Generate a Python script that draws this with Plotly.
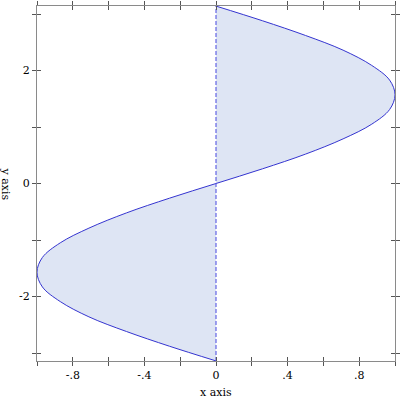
import plotly.graph_objects as go

# curve x = f(y)
y_vals = [-3.14, -2.88, -2.62, -2.36, -2.09, -1.83, -1.57, -1.31, -1.05, -0.79, -0.52, -0.26, 0.0,
          0.26, 0.52, 0.79, 1.05, 1.31, 1.57, 1.83, 2.09, 2.36, 2.62, 2.88, 3.14]
x_vals = [0.0, -0.26, -0.5, -0.71, -0.87, -0.97, -1.0, -0.97, -0.87, -0.71, -0.5, -0.26, 0.0,
          0.26, 0.5, 0.71, 0.87, 0.97, 1.0, 0.97, 0.87, 0.71, 0.5, 0.26, 0.0]
zero_x = [0.0, 0.0]
zero_y = [-3.1416, 3.1416]

x_ticks = [-0.8, -0.4, 0.0, 0.4, 0.8]
x_labels = ["-.8", "-.4", "0", ".4", ".8"]
x_minor = [-1.0, -0.6, -0.2, 0.2, 0.6, 1.0]
y_ticks = [-2, 0, 2]
y_labels = ["-2", "0", "2"]
y_minor = [-3, -1, 1, 3]

x_range = [-1.0, 1.0]
y_range = [-3.1416, 3.1416]

font = dict(family="DejaVu Serif", size=11, color="black")
axcol = "#8a8a8a"

fig = go.Figure()
fig.add_trace(go.Scatter(x=x_vals, y=y_vals, mode="lines", line=dict(color="#3434d0", width=1, shape="spline"),
                         fill="tozerox", fillcolor="rgba(222,229,244,1)", showlegend=False, hoverinfo="skip"))
fig.add_trace(go.Scatter(x=zero_x, y=zero_y, mode="lines", xaxis="x2", yaxis="y2",
                         line=dict(color="rgba(90,90,225,0.75)", width=1.5, dash="4px,2px"),
                         showlegend=False, hoverinfo="skip"))

common = dict(showgrid=False, zeroline=False, showline=True, linecolor=axcol, linewidth=1,
              tickcolor="#555555", tickwidth=1, ticklen=4, mirror="ticks", automargin=False)
fig.update_layout(
    width=400, height=400,
    margin=dict(l=37, r=5, t=6, b=39),
    paper_bgcolor="white", plot_bgcolor="white",
    font=font,
    xaxis=dict(range=x_range, tickvals=x_ticks, ticktext=x_labels, ticks="outside",
               minor=dict(tickvals=x_minor, ticks="outside", ticklen=4, tickcolor="#555555"), **common),
    yaxis=dict(range=y_range, tickvals=y_ticks, ticktext=y_labels, ticks="outside",
               minor=dict(tickvals=y_minor, ticks="outside", ticklen=4, tickcolor="#555555"), **common),
    xaxis2=dict(range=x_range, overlaying="x", anchor="y2", side="bottom", tickvals=x_ticks,
                showticklabels=False, ticks="inside",
                minor=dict(tickvals=x_minor, ticks="inside", ticklen=4, tickcolor="#555555"), **common),
    yaxis2=dict(range=y_range, overlaying="y", anchor="x2", side="left", tickvals=y_ticks,
                showticklabels=False, ticks="inside",
                minor=dict(tickvals=y_minor, ticks="inside", ticklen=4, tickcolor="#555555"), **common),
    annotations=[
        dict(text="x axis", xref="x", yref="paper", x=0, y=0, yshift=-31, yanchor="middle",
             showarrow=False, font=font),
        dict(text="y axis", xref="paper", yref="y", x=0, y=0, xshift=-32, xanchor="center",
             textangle=90, showarrow=False, font=font),
    ],
)
fig.write_html("out.html")
